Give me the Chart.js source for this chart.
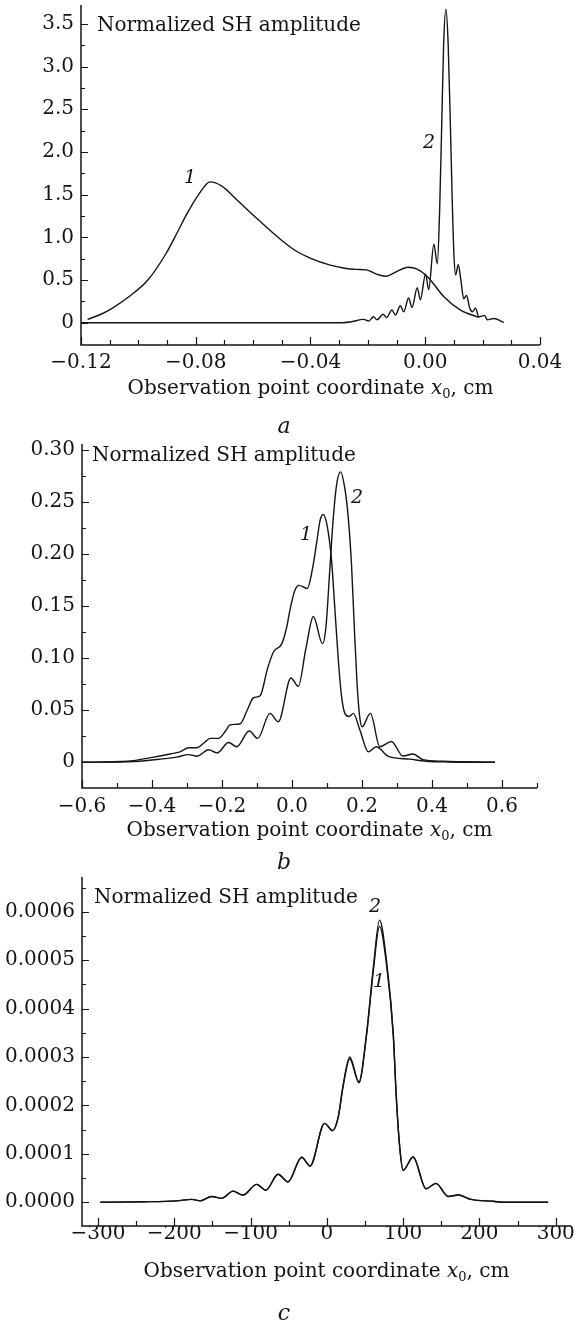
<!DOCTYPE html>
<html>
<head>
<meta charset="utf-8">
<script src="https://cdn.jsdelivr.net/npm/chart.js@4.4.1/dist/chart.umd.min.js"></script>
<style>
  html, body { margin: 0; padding: 0; background: #fff; }
  #wrap { position: relative; width: 579px; height: 1321px; }
  #wrap canvas { position: absolute; left: 0; top: 0; }
</style>
</head>
<body>
<div id="wrap">
  <canvas id="panelA" width="579" height="1321"></canvas>
  <canvas id="panelB" width="579" height="1321"></canvas>
  <canvas id="panelC" width="579" height="1321"></canvas>
</div>
<script>
// ---- panel a ----
const aX1 = [-0.1177, -0.1130, -0.1096, -0.1031, -0.0967, -0.0902, -0.0864, -0.0830, -0.0790, -0.0750, -0.0709, -0.0657, -0.0580, -0.0502, -0.0450, -0.0399, -0.0331, -0.0290, -0.0240, -0.0205, -0.0170, -0.0139, -0.0100, -0.0060, -0.0030, 0.0010, 0.0065, 0.0123, 0.0187];
const aY1 = [0.04, 0.10, 0.16, 0.31, 0.50, 0.82, 1.06, 1.28, 1.50, 1.65, 1.60, 1.44, 1.20, 0.97, 0.84, 0.755, 0.675, 0.645, 0.625, 0.62, 0.57, 0.545, 0.60, 0.65, 0.63, 0.53, 0.305, 0.149, 0.063];
const aX2 = [-0.1200, -0.0331, -0.0261, -0.0215, -0.0197, -0.0180, -0.0168, -0.0147, -0.0135, -0.0116, -0.0104, -0.0087, -0.0075, -0.0058, -0.0046, -0.0028, -0.0017, 0.0001, 0.0012, 0.0030, 0.0042, 0.0050, 0.0057, 0.0064, 0.0072, 0.0080, 0.0088, 0.0094, 0.0100, 0.0106, 0.0115, 0.0125, 0.0134, 0.0144, 0.0155, 0.0165, 0.0175, 0.0187, 0.0207, 0.0216, 0.0239, 0.0274];
const aY2 = [0, 0, 0.01, 0.04, 0.02, 0.07, 0.035, 0.10, 0.06, 0.15, 0.09, 0.20, 0.13, 0.29, 0.18, 0.41, 0.27, 0.57, 0.39, 0.92, 0.69, 1.30, 2.26, 3.25, 3.67, 3.25, 2.26, 1.44, 0.80, 0.56, 0.68, 0.48, 0.28, 0.32, 0.17, 0.13, 0.17, 0.07, 0.087, 0.035, 0.05, 0.005];
const aXMajor = [-0.12, -0.08, -0.04, 0, 0.04];
const aXLabels = ['\u22120.12', '\u22120.08', '\u22120.04', '0.00', '0.04'];
const aXMinor = [-0.11, -0.10, -0.09, -0.07, -0.06, -0.05, -0.03, -0.02, -0.01, 0.01, 0.02, 0.03];
const aYMajor = [0, 0.5, 1, 1.5, 2, 2.5, 3, 3.5];
const aYLabels = ['0', '0.5', '1.0', '1.5', '2.0', '2.5', '3.0', '3.5'];
const aYMinor = [0.25, 0.75, 1.25, 1.75, 2.25, 2.75, 3.25];

// ---- panel b ----
const bX1 = [-0.600, -0.470, -0.395, -0.348, -0.320, -0.295, -0.272, -0.250, -0.234, -0.210, -0.190, -0.177, -0.148, -0.128, -0.110, -0.091, -0.070, -0.053, -0.029, -0.015, -0.006, 0.008, 0.020, 0.044, 0.058, 0.070, 0.080, 0.089, 0.100, 0.113, 0.122, 0.132, 0.141, 0.151, 0.163, 0.175, 0.194, 0.218, 0.241, 0.274, 0.336, 0.384, 0.450, 0.580];
const bY1 = [0, 0.001, 0.005, 0.008, 0.010, 0.014, 0.014, 0.019, 0.023, 0.023, 0.030, 0.036, 0.037, 0.050, 0.062, 0.064, 0.090, 0.106, 0.114, 0.130, 0.146, 0.165, 0.170, 0.167, 0.185, 0.210, 0.232, 0.238, 0.228, 0.194, 0.150, 0.100, 0.065, 0.047, 0.044, 0.047, 0.031, 0.010, 0.015, 0.006, 0.003, 0.001, 0.0003, 0];
const bX2 = [-0.600, -0.450, -0.376, -0.330, -0.295, -0.272, -0.238, -0.214, -0.181, -0.158, -0.122, -0.098, -0.063, -0.039, -0.003, 0.018, 0.040, 0.061, 0.087, 0.097, 0.108, 0.118, 0.128, 0.139, 0.150, 0.160, 0.170, 0.178, 0.186, 0.193, 0.200, 0.224, 0.251, 0.284, 0.317, 0.346, 0.374, 0.431, 0.580];
const bY2 = [0, 0.0008, 0.003, 0.005, 0.0074, 0.0058, 0.012, 0.009, 0.019, 0.015, 0.030, 0.023, 0.047, 0.039, 0.081, 0.073, 0.110, 0.140, 0.114, 0.130, 0.185, 0.235, 0.268, 0.279, 0.265, 0.238, 0.190, 0.130, 0.075, 0.045, 0.034, 0.047, 0.015, 0.020, 0.006, 0.008, 0.0026, 0.001, 0];
const bXMajor = [-0.6, -0.4, -0.2, 0, 0.2, 0.4, 0.6];
const bXLabels = ['\u22120.6', '\u22120.4', '\u22120.2', '0.0', '0.2', '0.4', '0.6'];
const bXMinor = [-0.5, -0.3, -0.1, 0.1, 0.3, 0.5, 0.7];
const bYMajor = [0, 0.05, 0.10, 0.15, 0.20, 0.25, 0.30];
const bYLabels = ['0', '0.05', '0.10', '0.15', '0.20', '0.25', '0.30'];
const bYMinor = [0.025, 0.075, 0.125, 0.175, 0.225, 0.275];

// ---- panel c ----
const cX = [-297, -240, -197, -177, -166, -151, -138, -123, -110, -92, -80, -64, -51, -33, -22, -3, 7.5, 15, 21, 30, 42, 52, 61, 69, 79, 87, 91, 95.5, 100, 113, 130, 143, 159, 172, 189, 218, 235, 290];
const cY1 = [0, 0.000001, 0.000003, 0.000006, 0.000003, 0.000012, 0.000008, 0.000023, 0.000015, 0.000037, 0.000025, 0.000058, 0.000042, 0.000093, 0.000075, 0.000163, 0.000148, 0.000177, 0.000237, 0.000296, 0.000247, 0.000345, 0.000480, 0.000570, 0.000480, 0.000345, 0.000216, 0.000113, 0.000066, 0.000093, 0.000028, 0.000039, 0.000012, 0.000015, 0.000006, 0.000002, 0, 0];
const cY2 = [0, 0.000001, 0.000003, 0.000006, 0.000003, 0.000012, 0.000008, 0.000023, 0.000015, 0.000037, 0.000025, 0.000058, 0.000042, 0.000093, 0.000075, 0.000163, 0.000148, 0.000177, 0.000239, 0.000300, 0.000249, 0.000349, 0.000487, 0.000583, 0.000487, 0.000349, 0.000218, 0.000114, 0.000066, 0.000094, 0.000028, 0.000039, 0.000012, 0.000015, 0.000006, 0.000002, 0, 0];
const cXMajor = [-300, -200, -100, 0, 100, 200, 300];
const cXLabels = ['\u2212300', '\u2212200', '\u2212100', '0', '100', '200', '300'];
const cXMinor = [-250, -150, -50, 50, 150, 250];
const cYMajor = [0, 0.0001, 0.0002, 0.0003, 0.0004, 0.0005, 0.0006];
const cYLabels = ['0.0000', '0.0001', '0.0002', '0.0003', '0.0004', '0.0005', '0.0006'];
const cYMinor = [0.00005, 0.00015, 0.00025, 0.00035, 0.00045, 0.00055, 0.00065];

const INK = '#141414';
const SERIF = "'DejaVu Serif', 'Liberation Serif', serif";
const PAGE_H = 1321;

// where each panel sits on the page, and its decorations
const panels = {
  panelA: {
    area: { left: 81, right: 540, top: 5, bottom: 345 },
    xRange: [-0.12, 0.04], yRange: [-0.26, 3.72],
    xMajor: aXMajor, xLabels: aXLabels, xMinor: aXMinor,
    yMajor: aYMajor, yLabels: aYLabels, yMinor: aYMinor,
    series: [[aX1, aY1], [aX2, aY2]],
    xPad: 6,
    head: [97, 31], titleY: 394, letter: ['a', 284, 433],
    marks: [['1', 190, 178], ['2', 429, 143]]
  },
  panelB: {
    area: { left: 82, right: 537, top: 444, bottom: 788 },
    xRange: [-0.6, 0.7], yRange: [-0.0247, 0.3058],
    xMajor: bXMajor, xLabels: bXLabels, xMinor: bXMinor,
    yMajor: bYMajor, yLabels: bYLabels, yMinor: bYMinor,
    series: [[bX1, bY1], [bX2, bY2]],
    xPad: 7,
    head: [92, 461], titleY: 836, letter: ['b', 284, 869],
    marks: [['1', 306, 535], ['2', 357, 498]]
  },
  panelC: {
    area: { left: 82, right: 571, top: 877, bottom: 1226 },
    xRange: [-321, 320], yRange: [-0.000049, 0.000672],
    xMajor: cXMajor, xLabels: cXLabels, xMinor: cXMinor,
    yMajor: cYMajor, yLabels: cYLabels, yMinor: cYMinor,
    series: [[cX, cY1], [cX, cY2]],
    xPad: -4,
    head: [94, 903], titleY: 1277, letter: ['c', 284, 1320],
    marks: [['2', 375, 907], ['1', 379, 982]]
  }
};

function pairs(xs, ys) {
  return xs.map((x, i) => ({ x: x, y: ys[i] }));
}

function findMajor(list, v) {
  return list.findIndex(m => Math.abs(m - v) < 1e-9);
}

function drawAxisTitle(ctx, cx, y) {
  const a = 'Observation point coordinate ';
  const b = ', cm';
  ctx.font = '20px ' + SERIF;
  const wa = ctx.measureText(a).width;
  const wb = ctx.measureText(b).width;
  ctx.font = 'italic 20px ' + SERIF;
  const wx = ctx.measureText('x').width;
  ctx.font = '13px ' + SERIF;
  const w0 = ctx.measureText('0').width;
  let x = cx - (wa + wx + w0 + wb) / 2;
  ctx.textAlign = 'left';
  ctx.textBaseline = 'alphabetic';
  ctx.font = '20px ' + SERIF;
  ctx.fillText(a, x, y); x += wa;
  ctx.font = 'italic 20px ' + SERIF;
  ctx.fillText('x', x, y); x += wx;
  ctx.font = '13px ' + SERIF;
  ctx.fillText('0', x, y + 4); x += w0;
  ctx.font = '20px ' + SERIF;
  ctx.fillText(b, x, y);
}

// axes lines, inward ticks and the free texts
const decor = {
  id: 'decor',
  afterDraw(chart) {
    const p = panels[chart.canvas.id];
    const { ctx, chartArea: ca } = chart;
    const xs = chart.scales.x, ys = chart.scales.y;
    ctx.save();
    ctx.strokeStyle = INK;
    ctx.lineWidth = 1.5;
    ctx.beginPath();
    ctx.moveTo(ca.left, ca.top);
    ctx.lineTo(ca.left, ca.bottom);
    ctx.lineTo(ca.right, ca.bottom);
    ctx.stroke();

    ctx.lineWidth = 1.2;
    ctx.beginPath();
    xs.ticks.forEach(t => {
      const px = Math.round(xs.getPixelForValue(t.value)) + 0.5;
      const len = findMajor(p.xMajor, t.value) >= 0 ? 8 : 5;
      ctx.moveTo(px, ca.bottom);
      ctx.lineTo(px, ca.bottom - len);
    });
    ys.ticks.forEach(t => {
      const py = Math.round(ys.getPixelForValue(t.value)) + 0.5;
      const len = findMajor(p.yMajor, t.value) >= 0 ? 7 : 4;
      ctx.moveTo(ca.left, py);
      ctx.lineTo(ca.left + len, py);
    });
    ctx.stroke();

    ctx.fillStyle = INK;
    ctx.textAlign = 'left';
    ctx.textBaseline = 'alphabetic';
    ctx.font = '20px ' + SERIF;
    ctx.fillText('Normalized SH amplitude', p.head[0], p.head[1]);

    ctx.font = 'italic 19px ' + SERIF;
    ctx.textAlign = 'center';
    ctx.textBaseline = 'middle';
    p.marks.forEach(m => ctx.fillText(m[0], m[1], m[2]));

    drawAxisTitle(ctx, (ca.left + ca.right) / 2, p.titleY);

    ctx.font = 'italic 22px ' + SERIF;
    ctx.textAlign = 'center';
    ctx.textBaseline = 'alphabetic';
    ctx.fillText(p.letter[0], p.letter[1], p.letter[2]);
    ctx.restore();
  }
};

function makePanel(id) {
  const p = panels[id];
  const xTicks = p.xMajor.concat(p.xMinor).sort((a, b) => a - b);
  const yTicks = p.yMajor.concat(p.yMinor).sort((a, b) => a - b);
  const tickFont = { family: SERIF, size: 20 };

  return new Chart(document.getElementById(id), {
    type: 'scatter',
    data: {
      datasets: p.series.map(s => ({
        data: pairs(s[0], s[1]),
        showLine: true,
        borderColor: INK,
        borderWidth: 1.4,
        pointRadius: 0,
        fill: false,
        cubicInterpolationMode: 'monotone'
      }))
    },
    options: {
      responsive: false,
      animation: false,
      devicePixelRatio: 1,
      events: [],
      layout: { padding: { left: 0, top: p.area.top, right: 579 - p.area.right, bottom: 0 } },
      plugins: { legend: { display: false }, tooltip: { enabled: false } },
      scales: {
        x: {
          type: 'linear',
          min: p.xRange[0], max: p.xRange[1],
          grid: { display: false, drawTicks: false },
          border: { display: false },
          afterBuildTicks: s => { s.ticks = xTicks.map(v => ({ value: v })); },
          afterFit: s => {
            s.height = PAGE_H - p.area.bottom;
            s.paddingLeft = 0; s.paddingRight = 0;
          },
          ticks: {
            autoSkip: false, maxRotation: 0, minRotation: 0,
            padding: p.xPad, color: INK, font: tickFont,
            callback: v => { const i = findMajor(p.xMajor, v); return i < 0 ? '' : p.xLabels[i]; }
          }
        },
        y: {
          type: 'linear',
          min: p.yRange[0], max: p.yRange[1],
          grid: { display: false, drawTicks: false },
          border: { display: false },
          afterBuildTicks: s => { s.ticks = yTicks.map(v => ({ value: v })); },
          afterFit: s => {
            s.width = p.area.left;
            s.paddingTop = 0; s.paddingBottom = 0;
          },
          ticks: {
            autoSkip: false, padding: 7, color: INK, font: tickFont,
            callback: v => { const i = findMajor(p.yMajor, v); return i < 0 ? '' : p.yLabels[i]; }
          }
        }
      }
    },
    plugins: [decor]
  });
}

['panelA', 'panelB', 'panelC'].forEach(makePanel);
</script>
</body>
</html>
